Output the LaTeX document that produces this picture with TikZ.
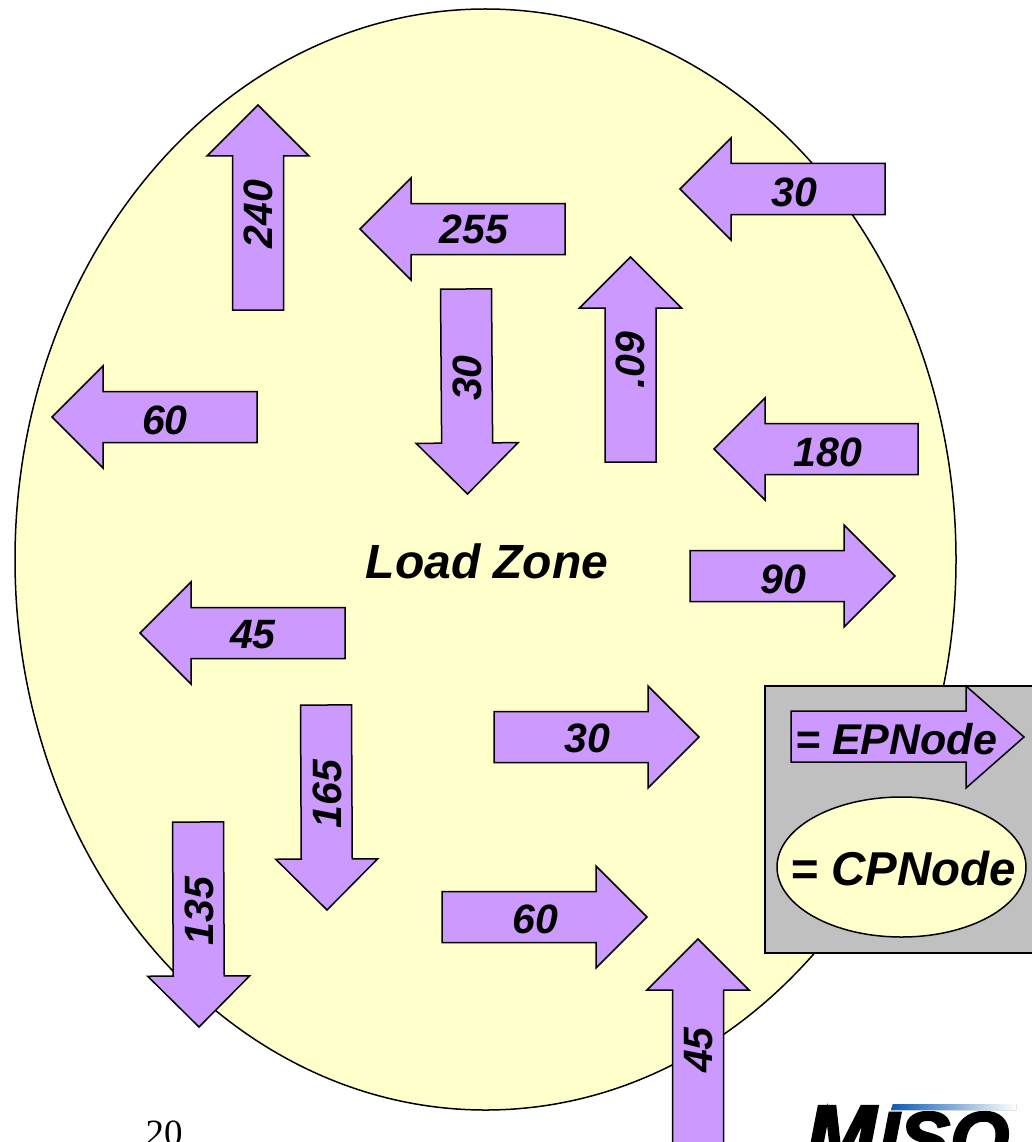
\documentclass[tikz,border=0pt]{standalone}
\usepackage{fontspec}
\setmainfont{Liberation Sans}
\newfontfamily\serifnum{Liberation Serif}
\newfontfamily\logofont[FakeBold=3]{Liberation Sans}
\usetikzlibrary{shapes.geometric}
\definecolor{arrowfill}{HTML}{CC99FF}
\definecolor{zonefill}{HTML}{FFFFCC}
\definecolor{boxfill}{HTML}{C0C0C0}
\definecolor{logoblue}{HTML}{0B5DB5}
\tikzset{
  outline/.style={draw=black,line width=1.5pt,line join=miter},
  arrowshape/.style={outline,fill=arrowfill},
  numlabel/.style={inner sep=0pt,font=\fontsize{41}{41}\selectfont\bfseries\itshape},
  zonelabel/.style={inner sep=0pt,font=\fontsize{48}{48}\selectfont\bfseries\itshape},
  eplabel/.style={inner sep=0pt,font=\fontsize{43}{43}\selectfont\bfseries\itshape},
  cplabel/.style={inner sep=0pt,font=\fontsize{47.5}{47.5}\selectfont\bfseries\itshape},
}
% #1 name, #2,#3 tail, #4,#5 tip, #6,#7 label centre, #8 label rotation, #9 text
\newcommand{\blockarrow}[9]{%
  \pgfmathsetmacro{\lenv}{veclen(#4-#2,#5-#3)}%
  \pgfmathsetmacro{\ux}{(#4-#2)/\lenv}%
  \pgfmathsetmacro{\uy}{(#5-#3)/\lenv}%
  \pgfmathsetmacro{\nx}{-\uy}%
  \pgfmathsetmacro{\ny}{\ux}%
  \pgfmathsetmacro{\bx}{#4-51*\ux}%
  \pgfmathsetmacro{\by}{#5-51*\uy}%
  \path[arrowshape]
    ({#2+25.5*\nx},{#3+25.5*\ny}) --
    ({\bx+25.5*\nx},{\by+25.5*\ny}) --
    ({\bx+51*\nx},{\by+51*\ny}) --
    (#4,#5) --
    ({\bx-51*\nx},{\by-51*\ny}) --
    ({\bx-25.5*\nx},{\by-25.5*\ny}) --
    ({#2-25.5*\nx},{#3-25.5*\ny}) -- cycle;
  \node[numlabel,rotate=#8] (#1) at (#6,#7) {#9};%
}
\begin{document}
\begin{tikzpicture}[x=1pt,y=-1pt]
\useasboundingbox (0,0) rectangle (1032,1142);
\clip (0,0) rectangle (1032,1142);
\fill[white] (0,0) rectangle (1032,1142);
% Load zone
\node[outline,fill=zonefill,ellipse,minimum width=941pt,minimum height=1101pt,inner sep=0pt,outer sep=0pt] (zone) at (485.5,559.5) {};
\node[zonelabel] (zonetext) at (487,561) {Load Zone};
% EP node arrows
\blockarrow{a240}{258}{310}{258}{105}{258}{214}{90}{240}
\blockarrow{a255}{565}{229}{360}{229}{474}{229}{0}{255}
\blockarrow{a30a}{885}{189}{680}{189}{794}{192}{0}{30}
\blockarrow{a30b}{466}{289}{467.5}{494}{467}{378}{90}{30}
\blockarrow{a09}{630.5}{462}{630.5}{257}{630}{360}{90}{.09}
\blockarrow{a60a}{257}{417}{52}{417}{165}{420}{0}{60}
\blockarrow{a180}{918}{449}{714}{449}{828}{452}{0}{180}
\blockarrow{a90}{690}{576}{895}{576}{783}{579}{0}{90}
\blockarrow{a45a}{345}{633}{140}{633}{253}{635}{0}{45}
\blockarrow{a165}{326}{705}{327}{910}{327}{794}{90}{165}
\blockarrow{a135}{198}{822}{199}{1027}{199}{911}{90}{135}
\blockarrow{a30c}{494}{737}{699}{737}{587}{738}{0}{30}
\blockarrow{a60b}{442}{917}{647}{917}{535}{919}{0}{60}
\blockarrow{a45b}{698}{1144}{698}{939}{699}{1050}{90}{45}
% Legend
\path[outline,fill=boxfill] (765,686) rectangle (1040,953);
\path[arrowshape] (791,711) -- (966,711) -- (966,686) -- (1024,737) -- (966,788) -- (966,762) -- (791,762) -- cycle;
\node[eplabel] (eplegend) at (896,739) {= EPNode};
\node[outline,fill=zonefill,ellipse,minimum width=249pt,minimum height=140pt,inner sep=0pt,outer sep=0pt] (cpnode) at (901.5,867) {};
\node[cplabel] (cplegend) at (903,869) {= CPNode};
% Footer
\node[inner sep=0pt,anchor=base,font=\fontsize{37}{37}\selectfont\serifnum] (pagenum) at (164,1145) {20};
\node[inner sep=0pt,anchor=base west,font=\fontsize{84}{84}\selectfont\logofont\bfseries\itshape] (logoM) at (806,1164) {M};
\node[inner sep=0pt,anchor=base west,font=\fontsize{76}{76}\selectfont\logofont\bfseries\itshape] (logoISO) at (878,1165) {ISO};
\fill[white] (880,1104) rectangle (1020,1111);
\fill[left color=logoblue,right color=white] (893,1104) -- (1016,1104) -- (1016,1110) -- (891,1110) -- cycle;
\end{tikzpicture}
\end{document}
